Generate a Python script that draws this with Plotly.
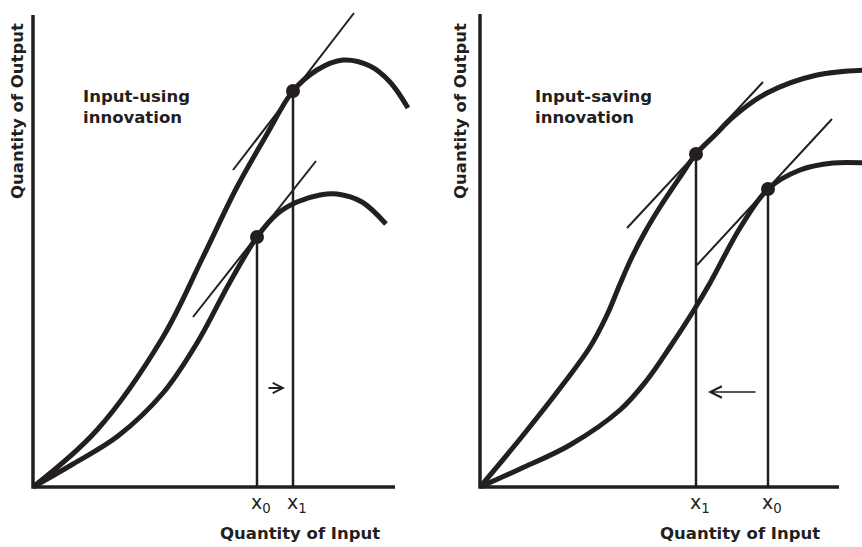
import plotly.graph_objects as go

INK = "#231f20"

# ---------------- Left panel: input-using innovation ----------------
L_AXIS_X_END = 36.2
L_AXIS_Y_END = 47.2
# new (post-innovation) production function
L_NEW_X = [0, 6.4, 13.0, 17.0, 20.4, 23.4, 26.0, 28.4, 31.0, 33.7, 35.7, 37.5]
L_NEW_Y = [0, 5.7, 15.0, 23.0, 30.0, 35.3, 39.6, 41.7, 42.7, 42.1, 40.5, 37.9]
# old production function
L_OLD_X = [0, 4.0, 8.5, 13.0, 16.4, 19.7, 22.4, 24.4, 26.4, 28.7, 30.4, 32.9, 35.3]
L_OLD_Y = [0, 2.3, 5.1, 9.4, 14.4, 20.5, 25.0, 27.3, 28.5, 29.2, 29.3, 28.5, 26.3]
L_X0, L_Y0 = 22.4, 25.0
L_X1, L_Y1 = 26.0, 39.6
L_TAN_NEW_X = [20.0, 32.1]
L_TAN_NEW_Y = [31.7, 47.4]
L_TAN_OLD_X = [16.0, 28.3]
L_TAN_OLD_Y = [17.0, 32.6]
L_ARROW_TAIL = (23.4, 9.9)
L_ARROW_HEAD = (25.2, 9.9)

# ---------------- Right panel: input-saving innovation ----------------
R_AXIS_X_END = 35.9
R_AXIS_Y_END = 47.3
R_NEW_X = [0, 4.0, 8.4, 11.0, 12.7, 14.0, 15.2, 16.5, 18.0, 20.0, 21.6, 23.5, 25.3, 28.7, 33.7, 38.6]
R_NEW_Y = [0, 4.8, 10.4, 14.0, 17.2, 20.3, 23.0, 25.5, 28.0, 31.0, 33.3, 35.2, 37.0, 39.4, 41.2, 41.7]
R_OLD_X = [0, 4.0, 9.0, 14.0, 16.7, 19.0, 21.4, 23.0, 26.0, 28.8, 32.0, 35.3, 38.6]
R_OLD_Y = [0, 1.8, 4.2, 7.7, 10.7, 14.0, 17.7, 20.4, 25.9, 29.8, 31.7, 32.4, 32.4]
R_X1, R_Y1 = 21.6, 33.3
R_X0, R_Y0 = 28.8, 29.8
R_TAN_NEW_X = [14.7, 28.3]
R_TAN_NEW_Y = [25.9, 40.5]
R_TAN_OLD_X = [21.7, 35.2]
R_TAN_OLD_Y = [22.2, 36.8]
R_ARROW_TAIL = (27.7, 9.5)
R_ARROW_HEAD = (22.8, 9.5)

LABEL_FONT = dict(family="DejaVu Sans", size=16.5, color=INK, weight="bold")
TICK_FONT = dict(family="DejaVu Sans", size=19, color=INK)

fig = go.Figure()


def add_panel(xa, ya, ax_x_end, ax_y_end, new_x, new_y, old_x, old_y,
              tnx, tny, tox, toy, dots_x, dots_y):
    kw = dict(xaxis=xa, yaxis=ya, hoverinfo="skip", showlegend=False)
    # axes
    fig.add_trace(go.Scatter(x=[0, 0, ax_x_end], y=[ax_y_end, 0, 0], mode="lines",
                             line=dict(color=INK, width=3.5), **kw))
    # vertical guide lines
    for vx, vy in zip(dots_x, dots_y):
        fig.add_trace(go.Scatter(x=[vx, vx], y=[0, vy], mode="lines",
                                 line=dict(color=INK, width=2.5), **kw))
    # tangents
    fig.add_trace(go.Scatter(x=tnx, y=tny, mode="lines", line=dict(color=INK, width=2), **kw))
    fig.add_trace(go.Scatter(x=tox, y=toy, mode="lines", line=dict(color=INK, width=2), **kw))
    # production functions
    fig.add_trace(go.Scatter(x=new_x, y=new_y, mode="lines",
                             line=dict(color=INK, width=5, shape="spline", smoothing=1.0), **kw))
    fig.add_trace(go.Scatter(x=old_x, y=old_y, mode="lines",
                             line=dict(color=INK, width=5, shape="spline", smoothing=1.0), **kw))
    # points
    fig.add_trace(go.Scatter(x=dots_x, y=dots_y, mode="markers",
                             marker=dict(color=INK, size=14), **kw))


add_panel("x", "y", L_AXIS_X_END, L_AXIS_Y_END, L_NEW_X, L_NEW_Y, L_OLD_X, L_OLD_Y,
          L_TAN_NEW_X, L_TAN_NEW_Y, L_TAN_OLD_X, L_TAN_OLD_Y,
          [L_X0, L_X1], [L_Y0, L_Y1])
add_panel("x2", "y2", R_AXIS_X_END, R_AXIS_Y_END, R_NEW_X, R_NEW_Y, R_OLD_X, R_OLD_Y,
          R_TAN_NEW_X, R_TAN_NEW_Y, R_TAN_OLD_X, R_TAN_OLD_Y,
          [R_X1, R_X0], [R_Y1, R_Y0])

annotations = []
for xr, yr, label, lx0, lx1, name_x in [
    ("x", "y", "Input-using<br>innovation", L_X0, L_X1, 26.7),
    ("x2", "y2", "Input-saving<br>innovation", R_X0, R_X1, 26.0),
]:
    annotations += [
        dict(xref=xr, yref=yr, x=-1.6 if xr == "x" else -2.0, y=37.6, text="Quantity of Output",
             textangle=-90, showarrow=False, font=LABEL_FONT, xanchor="center", yanchor="middle"),
        dict(xref=xr, yref=yr, x=name_x, y=-4.6, text="Quantity of Input",
             showarrow=False, font=LABEL_FONT, xanchor="center", yanchor="middle"),
        dict(xref=xr, yref=yr, x=4.8 if xr == "x" else 5.3, y=38.0, text=label, align="left",
             showarrow=False, font=LABEL_FONT, xanchor="left", yanchor="middle"),
        dict(xref=xr, yref=yr, x=lx0, y=-1.6, text="x<sub>0</sub>", xshift=4,
             showarrow=False, font=TICK_FONT, xanchor="center", yanchor="middle"),
        dict(xref=xr, yref=yr, x=lx1, y=-1.6, text="x<sub>1</sub>", xshift=4,
             showarrow=False, font=TICK_FONT, xanchor="center", yanchor="middle"),
    ]

annotations.append(dict(xref="x", yref="y", axref="x", ayref="y",
                        x=L_ARROW_HEAD[0], y=L_ARROW_HEAD[1], ax=L_ARROW_TAIL[0], ay=L_ARROW_TAIL[1],
                        text="", showarrow=True, arrowhead=5, arrowsize=1.1, arrowwidth=1.8,
                        arrowcolor=INK))
annotations.append(dict(xref="x2", yref="y2", axref="x2", ayref="y2",
                        x=R_ARROW_HEAD[0], y=R_ARROW_HEAD[1], ax=R_ARROW_TAIL[0], ay=R_ARROW_TAIL[1],
                        text="", showarrow=True, arrowhead=5, arrowsize=1.4, arrowwidth=1.6,
                        arrowcolor=INK))

hidden = dict(visible=False, fixedrange=True)
fig.update_layout(
    width=862, height=547,
    margin=dict(l=0, r=0, t=0, b=0),
    paper_bgcolor="white", plot_bgcolor="white",
    showlegend=False,
    xaxis=dict(domain=[0, 0.5], range=[-3.3, 39.8], anchor="y", **hidden),
    yaxis=dict(domain=[0, 1], range=[-6.0, 48.7], anchor="x", **hidden),
    xaxis2=dict(domain=[0.5, 1], range=[-4.9, 38.2], anchor="y2", **hidden),
    yaxis2=dict(domain=[0, 1], range=[-6.0, 48.7], anchor="x2", **hidden),
    annotations=annotations,
)

fig.write_html("out.html",
               config={"displayModeBar": False},
               post_script="document.body.style.margin='0px';document.body.style.overflow='hidden';")
